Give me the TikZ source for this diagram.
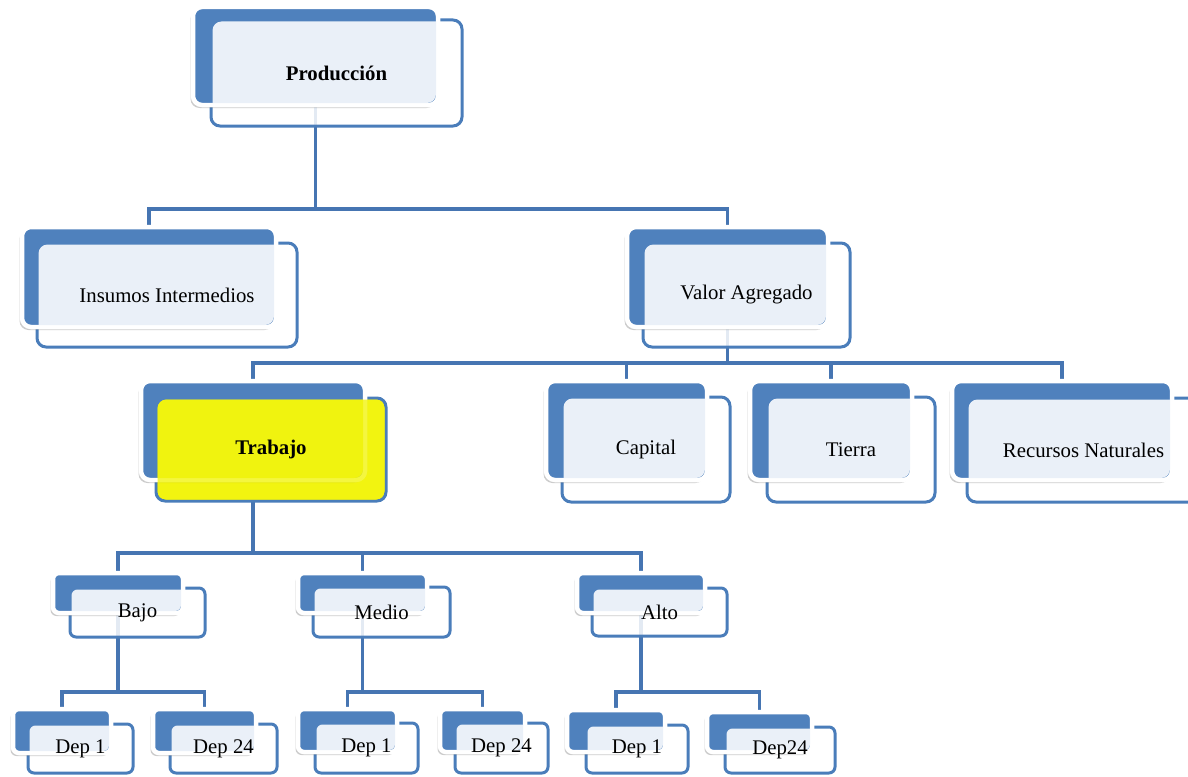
\documentclass[tikz,border=0pt]{standalone}
\usepackage{fontspec}
\setmainfont{Liberation Serif}
\usetikzlibrary{fit,shadows,backgrounds}

\definecolor{orgblue}{RGB}{79,129,189}
\definecolor{orgedge}{RGB}{74,125,186}
\definecolor{orglight}{RGB}{234,240,248}
\definecolor{orgline}{RGB}{70,117,178}
\definecolor{hiyellow}{RGB}{242,244,16}
\definecolor{hiyellowdark}{RGB}{236,240,14}

% One chart element: a blue tab box behind a framed box carrying the label.
% [#1] corner radius, #2 name, #3 #4 tab corners, #5 #6 frame corners, #7 label
\newcommand\orgunit[7][8pt]{%
  \node[frontbox, rounded corners=#1, fit={#5 #6}] (#2F) {};
  \node[backbox, rounded corners=#1, fit={#3 #4}] (#2) {};
  \begin{scope}
    \clip[rounded corners=#1] ([shift={(2pt,2pt)}]#2.south west) rectangle ([shift={(-2pt,-2pt)}]#2.north east);
    \fill[overlapfill, rounded corners=#1] ([shift={(1.5pt,1.5pt)}]#2F.south west) rectangle ([shift={(-1.5pt,-1.5pt)}]#2F.north east);
  \end{scope}
  \path[frontveil, rounded corners=#1] ([shift={(1.5pt,1.5pt)}]#2F.south west) rectangle ([shift={(-1.5pt,-1.5pt)}]#2F.north east);
  \node[labeltext] (#2T) at (#2F.center) {#7};
}

\begin{document}
\begin{tikzpicture}[x=1pt,y=-1pt,
  frontbox/.style={draw=orgedge, line width=3pt, fill=white, fill opacity=.85,
    inner sep=0pt, outer sep=0pt},
  backbox/.style={draw=white, line width=4.5pt, fill=orgblue, inner sep=0pt, outer sep=0pt,
    drop shadow={shadow xshift=-2.5pt, shadow yshift=-3pt, opacity=.2, fill=black}},
  overlapfill/.style={fill=orglight},
  frontveil/.style={},
  labeltext/.style={font=\fontsize{20.8}{25}\selectfont, inner sep=0pt},
  boldlabel/.style={labeltext/.append style={font=\fontsize{20.8}{25}\selectfont\bfseries}},
  conn/.style={draw=orgline, line width=3.5pt, line join=miter}
]
\useasboundingbox (0,0) rectangle (1188,776);
\clip (0,0) rectangle (1188,776);

% top level
\begin{scope}[boldlabel]
  \orgunit[9pt]{prod}{(193,7)}{(438,105)}{(211,20)}{(462,126)}{Producción}
\end{scope}

% second level
\orgunit[9pt]{ins}{(22,227)}{(276,327)}{(37,243)}{(297,347)}{Insumos Intermedios}
\orgunit[9pt]{valor}{(627,227)}{(828,327)}{(643,243)}{(850,347)}{Valor Agregado}

% factors of production
\begin{scope}[boldlabel,
  frontbox/.append style={fill=hiyellow, fill opacity=1},
  overlapfill/.style={fill=hiyellowdark},
  frontveil/.style={fill=hiyellow, fill opacity=.8}]
  \orgunit[9pt]{trab}{(141,381)}{(365,480)}{(156,398)}{(386,501)}{Trabajo}
\end{scope}
\orgunit[9pt]{cap}{(546,381)}{(707,480)}{(562,397)}{(730,502)}{Capital}
\orgunit[9pt]{tier}{(750,381)}{(912,480)}{(767,397)}{(935,502)}{Tierra}
\orgunit[9pt]{rec}{(952,381)}{(1172,480)}{(967,398)}{(1200,502)}{Recursos Naturales}

% skill levels
\orgunit[6pt]{bajo}{(53,573)}{(183,613)}{(70,588)}{(205,637)}{Bajo}
\orgunit[6pt]{medio}{(298,573)}{(427,613)}{(313,587)}{(450,637)}{Medio}
\orgunit[6pt]{alto}{(577,573)}{(705,613)}{(592,588)}{(727,636)}{Alto}

% departments
\orgunit[6pt]{bdA}{(13,709)}{(111,753)}{(28,724)}{(133,773)}{Dep 1}
\orgunit[6pt]{bdB}{(153,709)}{(256,753)}{(170,724)}{(277,773)}{Dep 24}
\orgunit[6pt]{mdA}{(298,709)}{(397,752)}{(315,723)}{(418,773)}{Dep 1}
\orgunit[6pt]{mdB}{(440,709)}{(525,752)}{(455,723)}{(548,773)}{Dep 24}
\orgunit[6pt]{adA}{(567,710)}{(665,752)}{(586,725)}{(688,773)}{Dep 1}
\orgunit[6pt]{adB}{(707,712)}{(812,752)}{(725,727)}{(835,773)}{Dep24}

% connectors
\begin{scope}[on background layer]
  \coordinate (prodbus) at (0,209);
  \coordinate (valorbus) at (0,363);
  \coordinate (trabbus) at (0,553);
  \coordinate (levelbus) at (0,692);
  \foreach \c in {ins,valor}
    \draw[conn] (prod.south) -- (prod.south |- prodbus) -| (\c.north);
  \foreach \c in {trab,cap,tier,rec}
    \draw[conn] (valor.south) -- (valor.south |- valorbus) -| (\c.north);
  \foreach \c in {bajo,medio,alto}
    \draw[conn] (trab.south) -- (trab.south |- trabbus) -| (\c.north);
  \foreach \c in {bdA,bdB}
    \draw[conn] (bajo.south) -- (bajo.south |- levelbus) -| (\c.north);
  \foreach \c in {mdA,mdB}
    \draw[conn] (medio.south) -- (medio.south |- levelbus) -| (\c.north);
  \foreach \c in {adA,adB}
    \draw[conn] (alto.south) -- (alto.south |- levelbus) -| (\c.north);
\end{scope}
\end{tikzpicture}
\end{document}
